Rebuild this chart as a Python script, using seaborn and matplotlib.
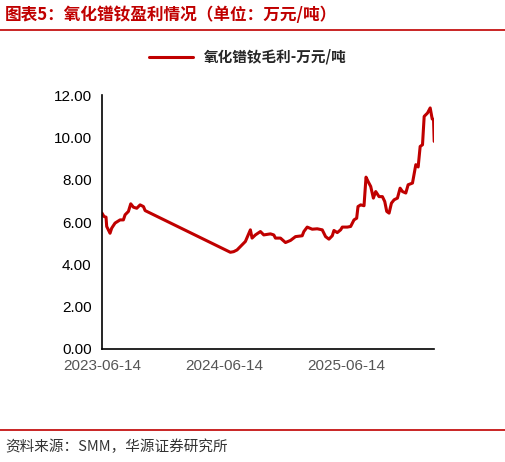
import numpy as np
import pandas as pd
import matplotlib
matplotlib.use("Agg")
import matplotlib.pyplot as plt
import seaborn as sns

# days since 2023-06-14 and gross profit (万元/吨)
day_offset = [0, 6, 12, 14, 24, 29, 39, 54, 64, 69, 79, 86, 94, 104, 114, 124, 129,
              384, 394, 404, 414, 429, 444, 449, 459, 474, 484, 504, 514, 519, 534, 549,
              564, 579, 599, 604, 614, 629, 644, 659, 669, 679, 689, 694, 704, 714, 719,
              734, 744, 754, 762, 766, 774, 784, 790, 796, 804, 812, 819, 829, 839, 846,
              852, 859, 866, 874, 884, 892, 899, 909, 916, 929, 939, 946, 952, 959, 964,
              974, 982, 988, 992, 994]
profit = [6.42, 6.26, 6.23, 5.79, 5.47, 5.71, 5.95, 6.10, 6.10, 6.34, 6.50, 6.86, 6.70, 6.65,
          6.81, 6.73, 6.54,
          4.57, 4.60, 4.68, 4.84, 5.08, 5.63, 5.24, 5.39, 5.55, 5.39, 5.44, 5.39, 5.24, 5.24,
          5.03, 5.13, 5.31, 5.35, 5.55, 5.76, 5.66, 5.68, 5.63, 5.31, 5.19, 5.35, 5.60, 5.50,
          5.63, 5.76, 5.76, 5.79, 6.10, 6.18, 6.73, 6.81, 6.77, 8.12, 7.92, 7.68, 7.13, 7.44,
          7.20, 7.20, 6.97, 6.50, 6.42, 6.89, 7.05, 7.13, 7.60, 7.44, 7.37, 7.76, 7.84, 8.71,
          8.60, 9.57, 9.65, 10.99, 11.15, 11.39, 10.87, 10.84, 9.81]
start = pd.Timestamp("2023-06-14")
df = pd.DataFrame({"date": start + pd.to_timedelta(day_offset, unit="D"), "profit": profit})

tick_dates = pd.to_datetime(["2023-06-14", "2023-12-14", "2024-06-14", "2024-12-14",
                             "2025-06-14", "2025-12-14"])
tick_labels = ["2023-06-14", "", "2024-06-14", "", "2025-06-14", ""]
red = "#C00000"

sns.set_style("white")
plt.rcParams["font.family"] = ["Noto Sans CJK SC", "DejaVu Sans"]

fig = plt.figure(figsize=(5.06, 4.62), dpi=100)
ax = fig.add_axes([0.2016, 0.2446, 0.6565, 0.5497])
sns.lineplot(data=df, x="date", y="profit", color=red, linewidth=2.2, ax=ax, legend=False)

ax.set_xlim(start, df["date"].iloc[-1])
ax.set_ylim(0, 12)
ax.set_yticks(np.arange(0, 12.1, 2))
ax.set_yticklabels([f"{v:.2f}" for v in np.arange(0, 12.1, 2)], fontsize=11,
                   family=["Liberation Sans"])
ax.set_xticks(tick_dates)
ax.set_xticklabels(tick_labels, fontsize=11, color="#555555", family=["Liberation Sans"])
ax.tick_params(axis="both", direction="out", length=4, color="black", width=1)
ax.tick_params(axis="y", colors="black")
ax.tick_params(axis="x", labelcolor="#555555")
for s in ["top", "right"]:
    ax.spines[s].set_visible(False)
for s in ["left", "bottom"]:
    ax.spines[s].set_color("black")
    ax.spines[s].set_linewidth(1.2)
ax.set_xlabel("")
ax.set_ylabel("")

# legend
ax.plot([], [], color=red, linewidth=2.2, label="氧化镨钕毛利-万元/吨")
leg = ax.legend(loc="center", frameon=False, handlelength=3,
                prop={"weight": "bold", "size": 10.5})
leg.set_bbox_to_anchor((0.49, 0.877), transform=fig.transFigure)

# title and source
fig.text(0.01, 0.968, "图表5：氧化镨钕盈利情况（单位：万元/吨）", color=red, fontsize=12,
         fontweight="bold", va="center", ha="left")
fig.add_artist(plt.Line2D([0.0, 1.0], [0.935, 0.935], color=red, linewidth=1.2))
fig.add_artist(plt.Line2D([0.0, 1.0], [0.07, 0.07], color=red, linewidth=1.2))
fig.text(0.01, 0.033, "资料来源：SMM，华源证券研究所", color="#333333", fontsize=10.5,
         va="center", ha="left")

fig.savefig("out.png", dpi=100)
